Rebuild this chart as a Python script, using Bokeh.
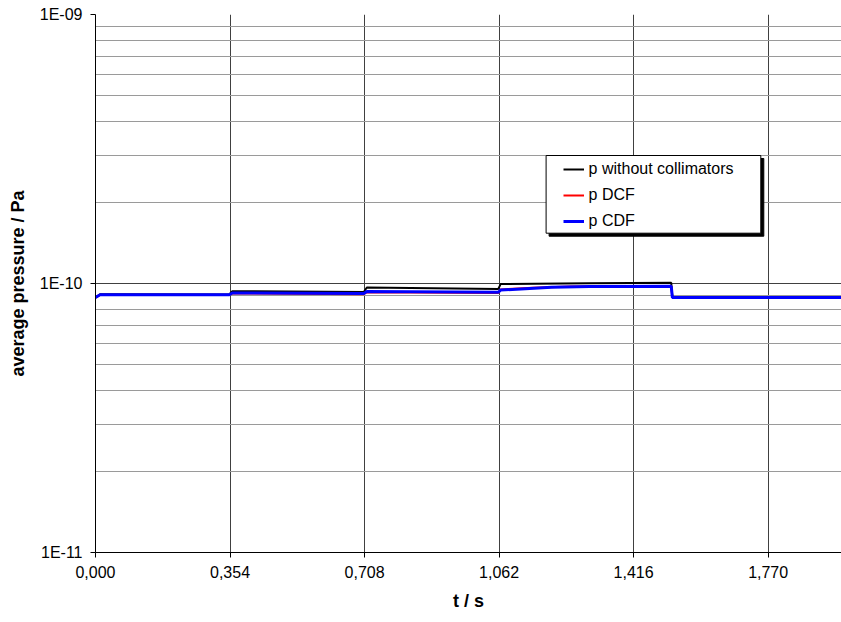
from bokeh.plotting import figure
from bokeh.models import FixedTicker, Legend, LegendItem, BoxAnnotation
from bokeh.embed import file_html
from bokeh.resources import INLINE

# time axis (s) and average pressure (Pa) for the three configurations
t_without = [0.000, 0.012, 0.352, 0.360, 0.706, 0.714, 1.060, 1.066, 1.300, 1.515, 1.518, 1.963]
p_without = [8.87e-11, 9.12e-11, 9.10e-11, 9.36e-11, 9.30e-11, 9.66e-11, 9.55e-11, 9.95e-11,
             1.003e-10, 1.006e-10, 8.87e-11, 8.87e-11]

t_dcf = [0.000, 0.012, 0.352, 0.360, 0.706, 0.714, 1.060, 1.066, 1.150, 1.250, 1.515, 1.518, 1.963]
p_dcf = [8.87e-11, 9.07e-11, 9.07e-11, 9.18e-11, 9.13e-11, 9.28e-11, 9.22e-11, 9.50e-11,
         9.65e-11, 9.74e-11, 9.76e-11, 8.87e-11, 8.87e-11]

t_cdf = [0.000, 0.012, 0.352, 0.360, 0.706, 0.714, 1.060, 1.066, 1.200, 1.300, 1.515, 1.518, 1.963]
p_cdf = [8.87e-11, 9.08e-11, 9.08e-11, 9.22e-11, 9.17e-11, 9.34e-11, 9.28e-11, 9.45e-11,
         9.68e-11, 9.75e-11, 9.76e-11, 8.87e-11, 8.87e-11]

x_ticks = [0.0, 0.354, 0.708, 1.062, 1.416, 1.770]
x_tick_labels = ["0,000", "0,354", "0,708", "1,062", "1,416", "1,770"]
y_ticks = [1e-11, 1e-10, 1e-9]
y_tick_labels = ["1E-11", "1E-10", "1E-09"]

FONT = "Liberation Sans"

p = figure(width=841, height=622,
           x_range=(0.0, 1.963), y_range=(1e-11, 1e-9), y_axis_type="log",
           output_backend="svg", toolbar_location=None,
           min_border_left=95, min_border_right=0, min_border_top=14, min_border_bottom=70)
p.outline_line_color = None
p.background_fill_color = "white"

# axes
p.xaxis.ticker = FixedTicker(ticks=x_ticks)
p.xaxis.major_label_overrides = dict(zip(x_ticks, x_tick_labels))
minor_y = [k * 10.0 ** e for e in (-11, -10) for k in range(2, 10)]
p.yaxis.ticker = FixedTicker(ticks=y_ticks, minor_ticks=minor_y)
p.yaxis.major_label_overrides = dict(zip(y_ticks, y_tick_labels))

for ax in (p.xaxis[0], p.yaxis[0]):
    ax.axis_line_color = "black"
    ax.axis_line_width = 1
    ax.major_tick_line_color = "black"
    ax.major_tick_out = 5
    ax.major_tick_in = 0
    ax.minor_tick_out = 0
    ax.minor_tick_in = 0
    ax.major_label_text_font = FONT
    ax.major_label_text_font_size = "16px"
    ax.major_label_text_color = "black"
    ax.axis_label_text_font = FONT
    ax.axis_label_text_font_size = "18px"
    ax.axis_label_text_font_style = "bold"
    ax.axis_label_text_color = "black"

p.xaxis.axis_label = "t / s"
p.xaxis.major_label_standoff = 8
p.xaxis.axis_label_standoff = 10
p.yaxis.axis_label = "average pressure / Pa"
p.yaxis.major_label_standoff = 8
p.yaxis.axis_label_standoff = 9

# grid
p.xgrid.grid_line_color = "#404040"
p.xgrid.grid_line_width = 1
p.ygrid.grid_line_color = "#404040"
p.ygrid.grid_line_width = 1
p.ygrid.minor_grid_line_color = "#9a9a9a"
p.ygrid.minor_grid_line_width = 1

# series
r_without = p.line(t_without, p_without, line_color="black", line_width=2)
r_dcf = p.line(t_dcf, p_dcf, line_color="red", line_width=2)
r_cdf = p.line(t_cdf, p_cdf, line_color="blue", line_width=3)

# legend frame with drop shadow
shadow = BoxAnnotation(left=453.6, right=668.3, bottom=316.3, top=394,
                       left_units="screen", right_units="screen",
                       bottom_units="screen", top_units="screen",
                       fill_color="black", fill_alpha=1, line_color="black", line_alpha=1)
frame_box = BoxAnnotation(left=450.6, right=665.3, bottom=319.3, top=397,
                          left_units="screen", right_units="screen",
                          bottom_units="screen", top_units="screen",
                          fill_color="white", fill_alpha=1,
                          line_color="black", line_alpha=1, line_width=1)
p.add_layout(shadow)
p.add_layout(frame_box)

legend = Legend(items=[LegendItem(label="p without collimators", renderers=[r_without]),
                       LegendItem(label="p DCF", renderers=[r_dcf]),
                       LegendItem(label="p CDF", renderers=[r_cdf])],
                location=(467.6, 321), padding=0, margin=0, spacing=6,
                glyph_width=21, glyph_height=20, label_height=20, label_standoff=5,
                border_line_color=None, background_fill_alpha=0,
                label_text_font=FONT, label_text_font_size="16px", label_text_color="black")
p.add_layout(legend)

open("out.html", "w").write(file_html(p, INLINE))
